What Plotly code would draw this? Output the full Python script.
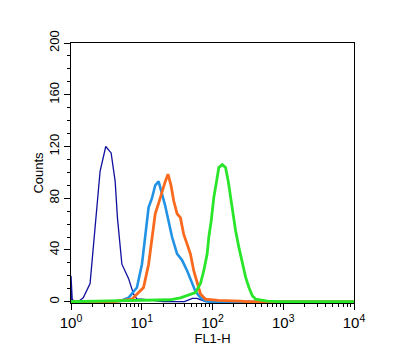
import plotly.graph_objects as go

# Dark blue (control / isotype)
navy_x = [1.0, 1.0, 1.04, 1.12, 1.26, 1.49, 1.86, 2.19, 2.58, 3.10, 3.69, 4.21, 4.53, 5.24, 6.50, 7.65, 8.55, 10.0, 12.0, 14.0, 20.0, 40.0, 52.0, 60.0, 70.0, 80.0, 10000.0]
navy_y = [0, 20, 2, 0, 0, 3, 14, 55, 101, 120, 115, 93, 65, 29, 18, 6, 2, 2, 1.5, 0.5, 0, 0, 2.5, 2.5, 1, 0, 0]

# Light blue
lblue_x = [1.0, 3.0, 5.0, 6.5, 8.55, 10.07, 11.2, 12.5, 13.95, 15.5, 17.3, 19.4, 21.5, 24.0, 26.8, 31.6, 37.2, 43.8, 48.7, 57.4, 67.6, 79.6, 90.0, 10000.0]
lblue_y = [0, 0, 0.5, 3, 11, 29, 50, 73, 80, 90, 93, 84, 74, 62, 50, 37, 32, 24, 18, 8, 3, 0.5, 0, 0]

# Orange
orange_x = [1.0, 4.0, 7.26, 10.6, 12.5, 13.95, 15.5, 17.3, 19.4, 21.5, 23.5, 25.9, 28.3, 31.6, 35.2, 39.2, 43.8, 48.7, 54.3, 60.7, 67.6, 79.6, 120.0, 250.0, 300.0, 10000.0]
orange_y = [0, 0, 2, 11, 29, 50, 68, 76, 86, 93, 98.6, 90, 78, 68, 65, 52, 44.5, 37, 24, 14, 6, 2, 1, 0.5, 0, 0]

# Green (specific staining)
green_x = [1.0, 3.0, 8.0, 15.0, 25.0, 35.2, 48.7, 57.4, 67.6, 75.3, 84.1, 88.7, 95.9, 104.3, 114.0, 122.8, 137.4, 152.9, 167.0, 180.0, 196.7, 211.9, 236.0, 263.8, 293.8, 327.5, 365.6, 407.4, 600.0, 900.0, 10000.0]
green_y = [0, 0.5, 1, 1, 1.5, 3, 6, 7, 14, 24, 37, 50, 62.5, 80.5, 93, 103.7, 106, 103.7, 93, 80.5, 68, 55, 42, 29, 19, 11, 4.6, 2, 0.5, 0, 0]

x_tickvals = [1, 10, 100, 1000, 10000]
x_ticktext = ["10<sup>0</sup>", "10<sup>1</sup>", "10<sup>2</sup>", "10<sup>3</sup>", "10<sup>4</sup>"]
y_tickvals = [0, 40, 80, 120, 160, 200]

fig = go.Figure()
fig.add_trace(go.Scatter(x=navy_x, y=navy_y, mode="lines", line=dict(color="#10109e", width=1.3)))
fig.add_trace(go.Scatter(x=lblue_x, y=lblue_y, mode="lines", line=dict(color="#2292e4", width=2.6)))
fig.add_trace(go.Scatter(x=orange_x, y=orange_y, mode="lines", line=dict(color="#fa6a1e", width=2.8)))
fig.add_trace(go.Scatter(x=green_x, y=green_y, mode="lines", line=dict(color="#2ae62a", width=2.8)))

font_family = "Liberation Sans, Arial, sans-serif"
fig.update_layout(
    width=394, height=357,
    margin=dict(l=63, r=48, t=35, b=62),
    paper_bgcolor="white", plot_bgcolor="white",
    showlegend=False,
    font=dict(family=font_family, size=13, color="black"),
    xaxis=dict(
        type="log", range=[0, 4], automargin=False,
        tickvals=x_tickvals, ticktext=x_ticktext,
        ticks="outside", ticklen=6, tickwidth=1, tickcolor="black",
        showline=True, linecolor="black", linewidth=1, mirror=True,
        showgrid=False, zeroline=False,
        tickfont=dict(size=15),
        minor=dict(ticks="outside", ticklen=3, tickcolor="black", dtick="D1", showgrid=False),
        title=dict(text="FL1-H", font=dict(size=13), standoff=2),
    ),
    yaxis=dict(
        range=[-1, 200], automargin=False,
        tickvals=y_tickvals,
        tickangle=-90,
        ticks="outside", ticklen=6, tickwidth=1, tickcolor="black",
        showline=True, linecolor="black", linewidth=1, mirror=True,
        showgrid=False, zeroline=False,
        tickfont=dict(size=13),
        minor=dict(ticks="outside", ticklen=3, tickcolor="black", dtick=10, tick0=0, showgrid=False),
        title=dict(text="Counts", font=dict(size=13), standoff=0),
    ),
)

fig.write_html("out.html")
